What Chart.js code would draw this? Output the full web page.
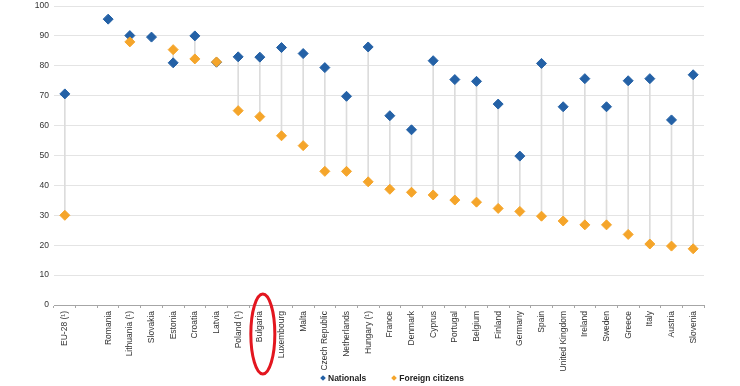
<!DOCTYPE html>
<html>
<head>
<meta charset="utf-8">
<script src="https://cdn.jsdelivr.net/npm/chart.js@4/dist/chart.umd.min.js"></script>
<style>
  html, body { margin: 0; padding: 0; background: #fff; }
  #wrap { position: relative; width: 740px; height: 386px; }
  #legend { position: absolute; top: 373px; left: 321px; font: bold 8.5px 'Liberation Sans', Arial, sans-serif; color: #222; white-space: nowrap; }
  #legend span.item { display: inline-block; margin-right: 26px; }
  #legend i { display: inline-block; width: 4px; height: 4px; transform: rotate(45deg); margin-right: 3px; vertical-align: 1px; }
</style>
</head>
<body>
<div id="wrap">
  <canvas id="myChart" width="740" height="386"></canvas>
  <div id="legend"></div>
</div>
<script>
const categories = ['EU-28 (¹)', '', 'Romania', 'Lithuania (¹)', 'Slovakia', 'Estonia', 'Croatia', 'Latvia',
  'Poland (¹)', 'Bulgaria', 'Luxembourg', 'Malta', 'Czech Republic', 'Netherlands', 'Hungary (¹)', 'France',
  'Denmark', 'Cyprus', 'Portugal', 'Belgium', 'Finland', 'Germany', 'Spain', 'United Kingdom', 'Ireland',
  'Sweden', 'Greece', 'Italy', 'Austria', 'Slovenia'];

const nationals = [70.6, null, 95.6, 90.1, 89.6, 81.0, 90.0, 81.2, 83.0, 82.9, 86.1, 84.1, 79.4, 69.8, 86.3, 63.3,
  58.6, 81.7, 75.4, 74.8, 67.2, 49.8, 80.8, 66.3, 75.7, 66.3, 75.0, 75.7, 61.9, 77.0];

const foreign = [30.0, null, null, 88.0, null, 85.4, 82.3, 81.3, 65.0, 63.0, 56.6, 53.3, 44.7, 44.7, 41.2, 38.7,
  37.7, 36.8, 35.1, 34.4, 32.3, 31.3, 29.7, 28.1, 26.8, 26.8, 23.6, 20.4, 19.7, 18.8];

const yTicks = [0, 10, 20, 30, 40, 50, 60, 70, 80, 90, 100];
const highlighted = 'Bulgaria';

// grey high-low line between the two series
const dropLines = nationals.map((n, i) => (n == null || foreign[i] == null) ? null : [foreign[i], n]);

const labelFont = { family: 'Liberation Sans, Arial, sans-serif', size: 8.5 };

// red ellipse drawn round one category label
const circleLabel = {
  id: 'circleLabel',
  afterDraw(chart) {
    const x = chart.scales.x.getPixelForValue(categories.indexOf(highlighted)) + 3;
    const ctx = chart.ctx;
    ctx.save();
    ctx.strokeStyle = '#e3161f';
    ctx.lineWidth = 3;
    ctx.beginPath();
    ctx.ellipse(x, 334, 12, 40, 0, 0, Math.PI * 2);
    ctx.stroke();
    ctx.restore();
  }
};

const chart = new Chart(document.getElementById('myChart'), {
  type: 'line',
  data: {
    labels: categories,
    datasets: [
      {
        label: 'Foreign citizens',
        data: foreign,
        showLine: false,
        pointStyle: 'rectRot',
        pointRadius: 5,
        pointBackgroundColor: '#f5a52a',
        pointBorderColor: '#f5a52a',
        borderColor: '#f5a52a',
      },
      {
        label: 'Nationals',
        data: nationals,
        showLine: false,
        pointStyle: 'rectRot',
        pointRadius: 5,
        pointBackgroundColor: '#2461a6',
        pointBorderColor: '#2461a6',
        borderColor: '#2461a6',
      },
      {
        type: 'bar',
        label: 'range',
        data: dropLines,
        barThickness: 1,
        backgroundColor: '#dcdcdc',
      },
    ],
  },
  options: {
    responsive: false,
    animation: false,
    layout: { padding: { left: 0, right: 36, top: 0, bottom: 0 } },
    plugins: {
      tooltip: { enabled: false },
      legend: { display: false },
    },
    scales: {
      x: {
        offset: true,
        grid: { offset: true, drawOnChartArea: false, drawTicks: true, tickLength: 3, color: '#a6a6a6' },
        border: { color: '#a6a6a6' },
        ticks: {
          autoSkip: false,
          minRotation: 90,
          maxRotation: 90,
          padding: 3,
          color: '#333',
          font: labelFont,
        },
        afterFit(scale) { scale.height = 81; },
      },
      y: {
        min: 0,
        max: 100,
        afterBuildTicks(scale) { scale.ticks = yTicks.map(v => ({ value: v })); },
        // invisible tick marks give the gap between labels and grid
        grid: { color: '#e4e4e4', drawTicks: true, tickLength: 5, tickColor: 'rgba(0,0,0,0)' },
        border: { display: false },
        ticks: { padding: 0, color: '#333', font: labelFont },
        afterFit(scale) { scale.width = 54; },
      },
    },
  },
  plugins: [circleLabel],
});

// legend: Nationals first, as in the source
const legendEl = document.getElementById('legend');
[1, 0].forEach(i => {
  const ds = chart.data.datasets[i];
  const item = document.createElement('span');
  item.className = 'item';
  item.innerHTML = '<i style="background:' + ds.pointBackgroundColor + '"></i>' + ds.label;
  legendEl.appendChild(item);
});
</script>
</body>
</html>
